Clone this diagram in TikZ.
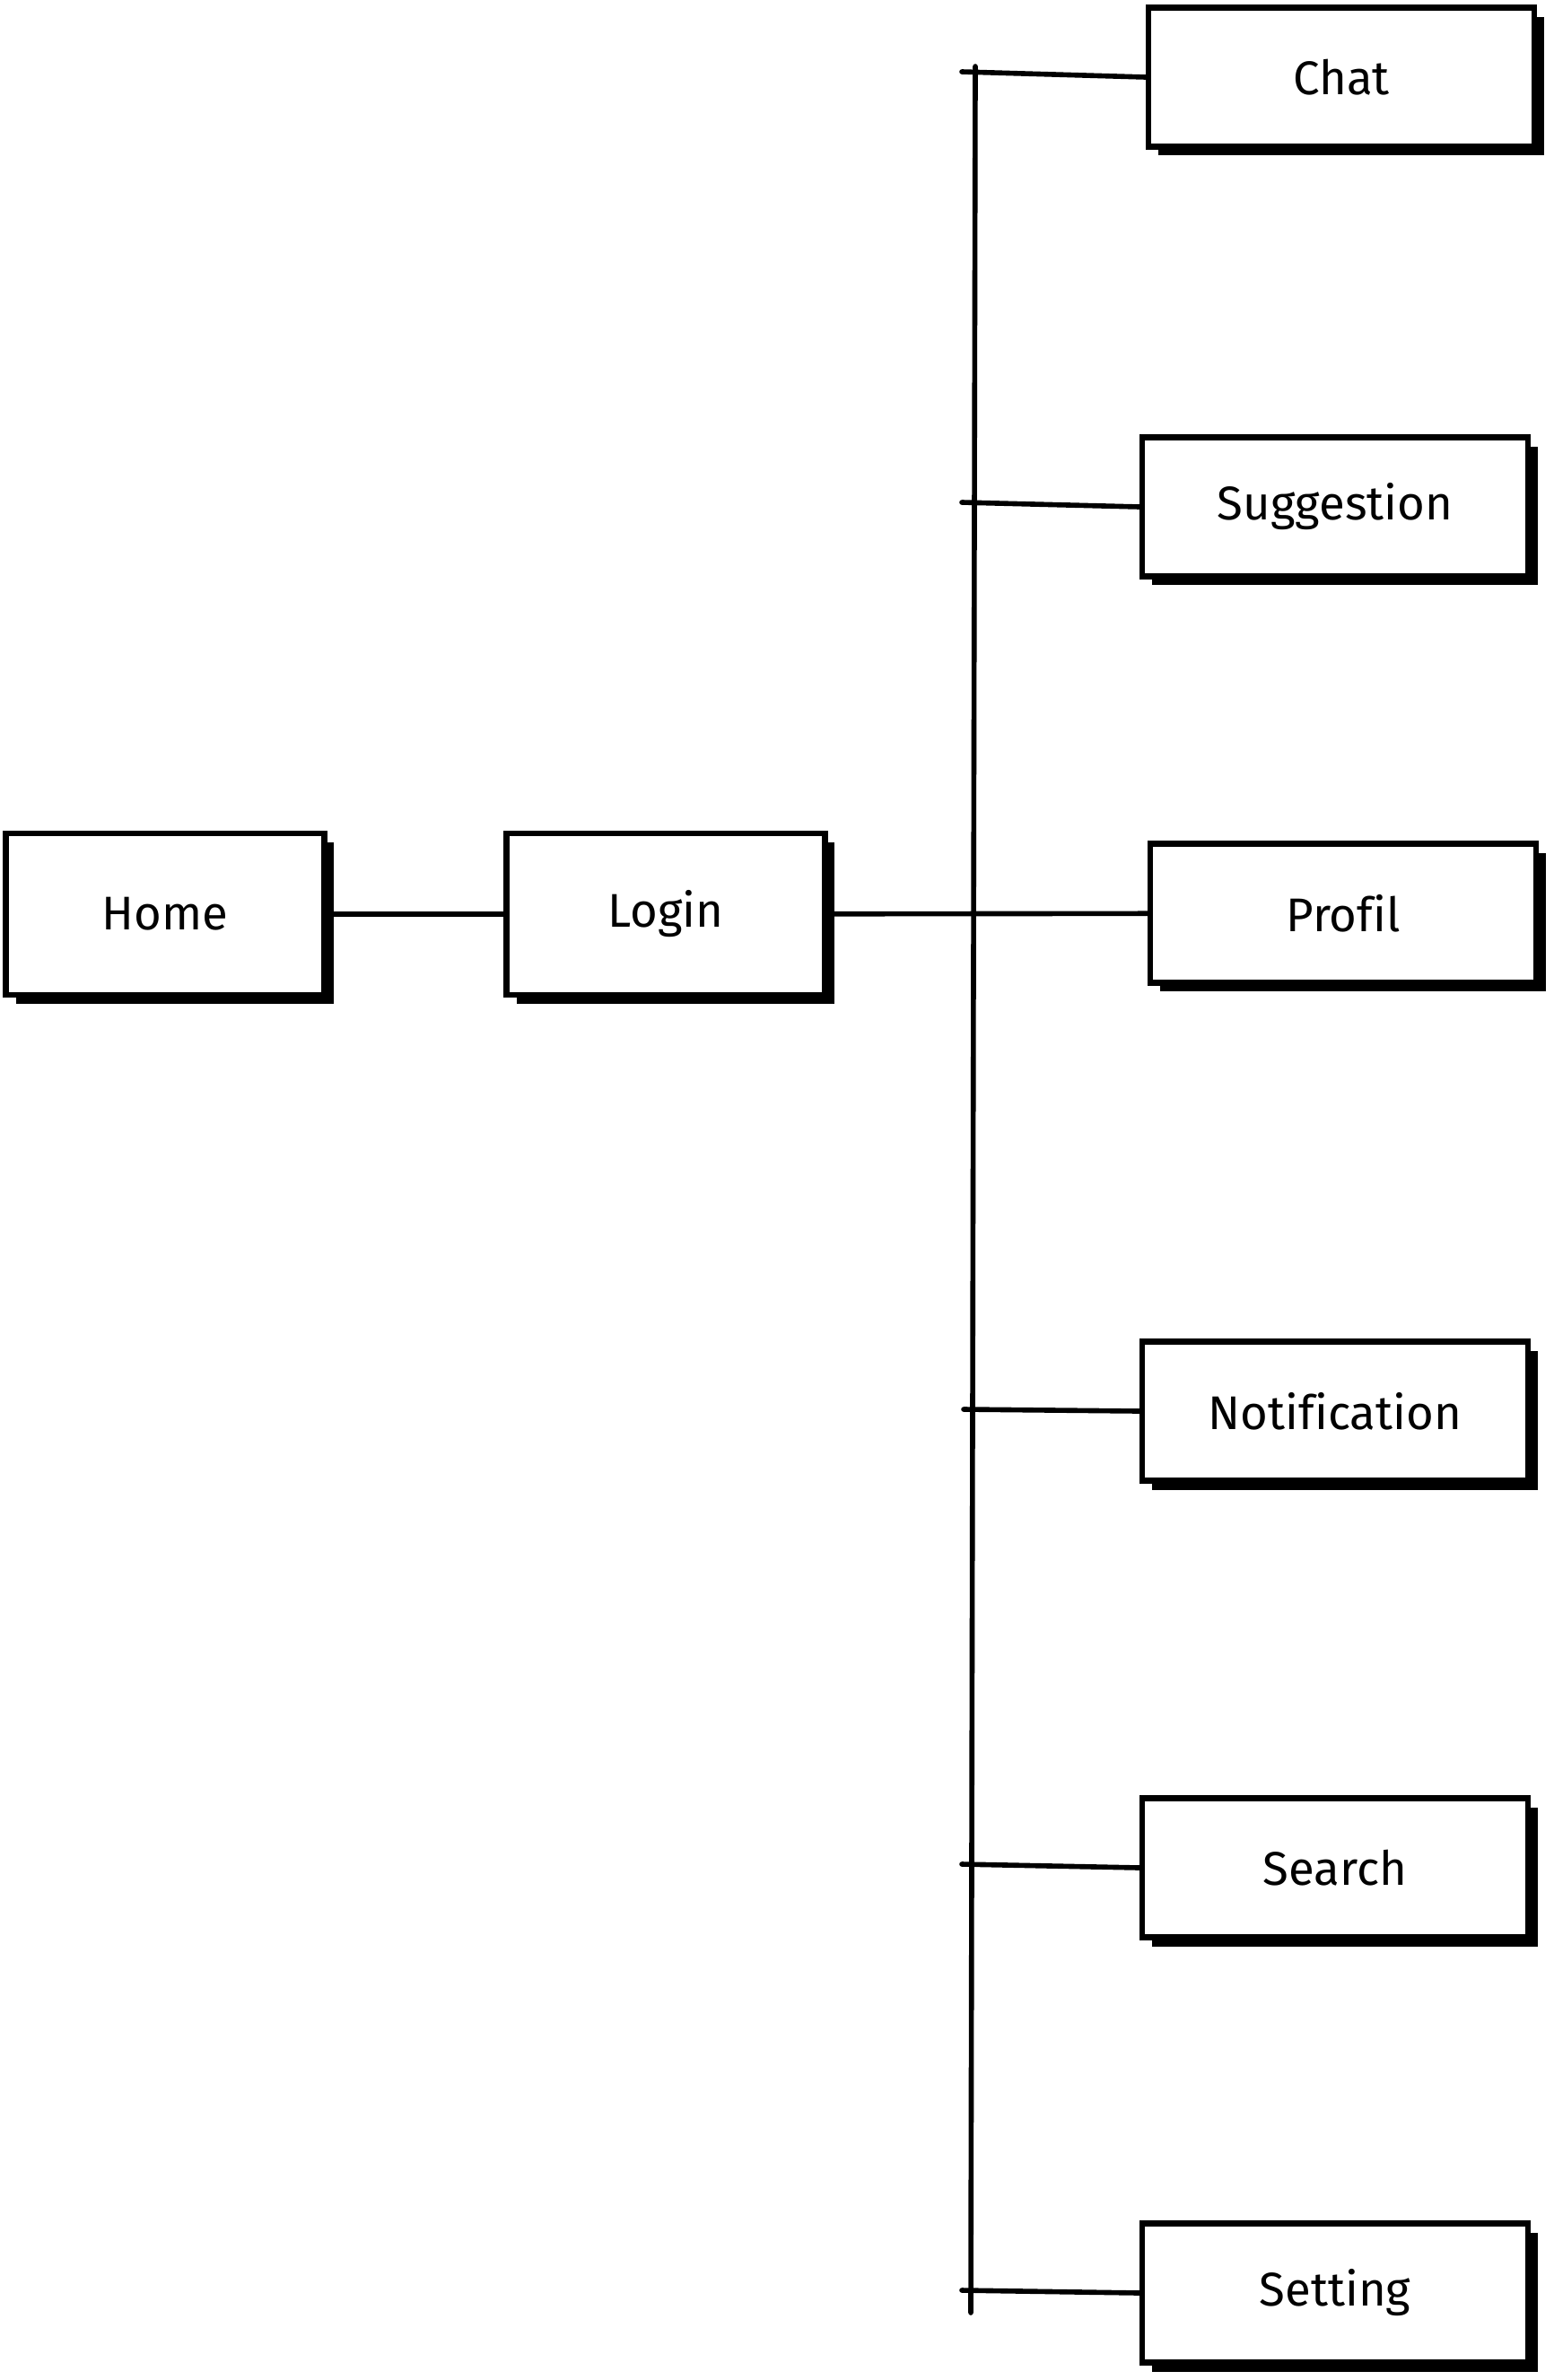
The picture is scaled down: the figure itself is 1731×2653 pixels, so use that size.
\documentclass[tikz,border=0pt]{standalone}
\usepackage{fontspec}
\setmainfont[Ligatures=NoCommon]{Fira Sans}
\usepackage{tikz}
\usetikzlibrary{calc,shadows}

\begin{document}
\begin{tikzpicture}[x=0.02cm, y=-0.02cm,
        page/.style={draw, line width=3.8pt, fill=white, font=\fontsize{30}{33}\selectfont,
            drop shadow={shadow xshift=0.22cm, shadow yshift=-0.2cm, fill=black, opacity=1}},
        main/.style={page, minimum width=7.1cm, minimum height=3.6cm},
        sub/.style={page, minimum width=8.6cm, minimum height=3.1cm},
        link/.style={line width=3.2pt, line cap=round}]
            \useasboundingbox (0, 0) rectangle (1731, 2653);

            \node [main] (home) at (184, 1019) {Home};
            \node [main] (login) at (742, 1019) {Login};

            \node [sub] (chat) at (1495, 86) {Chat};
            \node [sub] (sugg) at (1488, 565) {Suggestion};
            \node [sub] (profil) at (1497, 1018) {Profil};
            \node [sub] (notif) at (1488, 1573) {Notification};
            \node [sub] (search) at (1488, 2082) {Search};
            \node [sub] (setting) at (1488, 2556) {Setting};

            \coordinate (top) at (1087, 74);
            \coordinate (bottom) at (1082, 2578);
            \coordinate (bChat) at (1072, 80);
            \coordinate (bSugg) at (1072, 560);
            \coordinate (bNotif) at (1074, 1571);
            \coordinate (bSearch) at (1072, 2078);
            \coordinate (bSetting) at (1072, 2553);

            \draw [link] (top) -- (bottom);
            \draw [link] (home) -- (login);
            \draw [link] (login) -- (profil);
            \draw [link] (bChat) -- (chat.west);
            \draw [link] (bSugg) -- (sugg.west);
            \draw [link] (bNotif) -- (notif.west);
            \draw [link] (bSearch) -- (search.west);
            \draw [link] (bSetting) -- (setting.west);
        \end{tikzpicture}
\end{document}
